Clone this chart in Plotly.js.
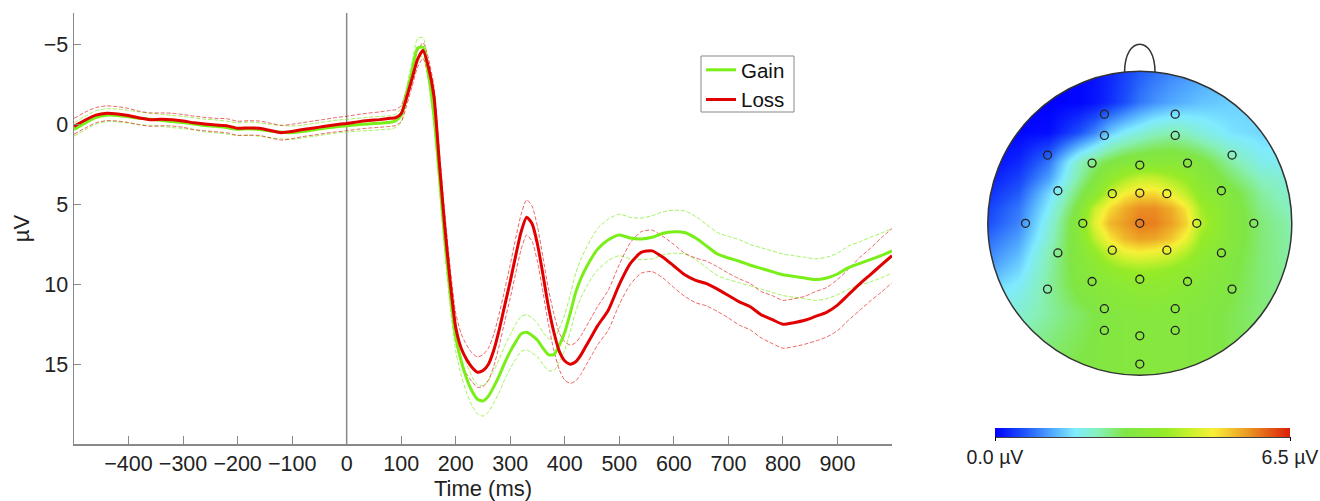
<!DOCTYPE html>
<html>
<head>
<meta charset="utf-8">
<script src="https://cdn.plot.ly/plotly-3.0.1.min.js"></script>
<style>
html,body{margin:0;padding:0;background:#fff;}
#chart{width:1320px;height:501px;}
</style>
</head>
<body>
<div id="chart"></div>
<script>
// ---------------- ERP data ----------------
const timeMs = [
 -500,-480,-460,-440,-420,-400,-380,-360,-340,-320,-300,-280,-260,-240,-220,-200,-180,-160,-140,-120,-100,-80,-60,-40,-20,0,20,40,60,80,
 90,100,110,120,130,140,150,160,170,180,190,200,210,220,230,240,250,260,270,280,290,300,310,320,330,340,350,360,370,380,390,400,410,420,430,440,450,
 460,480,500,520,540,560,580,600,620,640,660,680,700,720,740,760,780,800,820,840,860,880,900,920,940,960,980,1000
];
const gainMean = [
 0.3,-0.1,-0.45,-0.6,-0.58,-0.5,-0.4,-0.34,-0.28,-0.2,-0.14,-0.05,0.05,0.1,0.18,0.28,0.25,0.3,0.4,0.46,0.5,0.42,0.32,0.22,0.12,0.06,0.0,-0.05,-0.1,-0.15,
 -0.25,-0.6,-1.9,-3.4,-4.8,-4.85,-3.2,-0.6,3.2,7.2,10.6,13.3,14.8,15.9,16.7,17.2,17.3,17.0,16.4,15.7,14.9,14.2,13.6,13.1,13.0,13.2,13.5,14.0,14.4,14.4,13.8,13.0,11.8,10.5,9.6,8.9,8.3,
 7.8,7.2,6.9,7.1,7.15,7.05,6.8,6.7,6.75,7.1,7.6,8.1,8.35,8.55,8.8,9.0,9.2,9.4,9.5,9.6,9.7,9.6,9.35,8.95,8.7,8.45,8.2,7.9
];
const gainSE = [
 0.42,0.42,0.42,0.4,0.4,0.4,0.4,0.38,0.38,0.38,0.38,0.38,0.4,0.4,0.4,0.4,0.42,0.42,0.42,0.42,0.42,0.4,0.4,0.4,0.4,0.4,0.4,0.42,0.42,0.42,
 0.42,0.45,0.5,0.55,0.6,0.6,0.6,0.65,0.7,0.8,0.85,0.9,0.9,0.9,0.9,0.92,0.95,1.0,1.0,1.05,1.05,1.05,1.1,1.1,1.1,1.1,1.05,1.0,1.0,1.0,1.05,1.1,1.15,1.2,1.2,1.25,1.25,
 1.3,1.3,1.3,1.3,1.3,1.35,1.35,1.35,1.35,1.35,1.35,1.35,1.35,1.35,1.3,1.3,1.3,1.3,1.3,1.3,1.3,1.3,1.3,1.35,1.35,1.4,1.4,1.4
];
const lossMean = [
 0.1,-0.28,-0.6,-0.72,-0.68,-0.58,-0.42,-0.32,-0.34,-0.32,-0.24,-0.12,-0.04,0.02,0.06,0.22,0.2,0.22,0.36,0.5,0.42,0.3,0.2,0.1,0.0,-0.08,-0.18,-0.26,-0.32,-0.4,
 -0.45,-0.7,-1.7,-2.9,-4.1,-4.65,-3.6,-1.8,2.4,6.4,9.9,12.7,14.0,14.7,15.2,15.5,15.4,15.0,14.1,12.8,11.3,9.8,8.2,6.7,5.8,6.2,7.5,9.4,11.4,13.0,14.2,14.8,15.0,14.85,14.4,13.8,13.2,
 12.6,11.6,10.0,8.7,8.0,7.9,8.3,8.85,9.4,9.75,9.95,10.3,10.7,11.1,11.4,11.9,12.2,12.5,12.4,12.25,12.0,11.75,11.3,10.65,10.0,9.4,8.8,8.2
];
const lossSE = [
 0.5,0.5,0.48,0.46,0.45,0.44,0.42,0.42,0.4,0.4,0.4,0.42,0.42,0.42,0.44,0.44,0.45,0.45,0.46,0.46,0.45,0.44,0.44,0.44,0.45,0.45,0.46,0.47,0.48,0.5,
 0.5,0.5,0.5,0.5,0.5,0.5,0.55,0.6,0.7,0.8,0.85,0.9,0.9,0.9,0.9,0.95,1.0,1.0,1.0,1.0,1.0,1.05,1.1,1.1,1.1,1.1,1.1,1.1,1.1,1.15,1.15,1.2,1.2,1.2,1.2,1.2,1.2,
 1.2,1.25,1.25,1.3,1.3,1.3,1.3,1.35,1.35,1.4,1.4,1.4,1.4,1.45,1.45,1.45,1.5,1.5,1.5,1.5,1.55,1.55,1.6,1.6,1.65,1.65,1.7,1.7
];
const xTicks = [-400,-300,-200,-100,0,100,200,300,400,500,600,700,800,900];
const yTicks = [-5,0,5,10,15];
const seriesNames = ['Gain','Loss'];

// ---------------- Topographic map ----------------
const topoX = [-1,-0.8,-0.6,-0.4,-0.3,-0.2,-0.1,0,0.1,0.2,0.3,0.4,0.6,0.8,1];
const topoY = [1,0.8,0.6,0.4,0.3,0.2,0.1,0,-0.1,-0.2,-0.3,-0.4,-0.6,-0.8,-1];
const topoZ = [
 [0,0,0,0.05,0.15,0.3,0.5,0.7,0.85,1.0,1.1,1.2,1.4,1.55,1.65],
 [0,0,0,0.05,0.15,0.35,0.6,0.9,1.1,1.25,1.35,1.45,1.55,1.6,1.7],
 [0.05,0.05,0.1,0.6,1.0,1.5,1.8,2.0,2.2,2.3,2.2,2.0,1.7,1.6,1.7],
 [0.1,0.3,0.9,2.2,2.6,2.9,3.1,3.2,3.25,3.25,3.15,3.0,2.4,1.9,1.8],
 [0.2,0.5,1.2,2.4,2.9,3.5,4.0,4.3,4.3,4.0,3.7,3.25,2.7,2.2,2.0],
 [0.35,0.7,1.6,2.7,3.3,4.3,4.8,5.0,5.0,4.7,4.2,3.5,3.0,2.4,2.1],
 [0.5,0.9,1.8,3.0,4.3,5.0,5.4,5.65,5.65,5.4,4.9,3.9,3.1,2.5,2.2],
 [0.6,1.0,2.0,3.2,4.6,5.3,5.55,5.8,5.75,5.5,5.1,4.1,3.1,2.6,2.3],
 [0.8,1.2,2.1,3.2,4.2,4.9,5.3,5.5,5.45,5.2,4.7,3.8,3.1,2.6,2.35],
 [1.0,1.4,2.3,3.1,3.6,4.2,4.6,4.7,4.6,4.4,4.0,3.5,3.0,2.6,2.35],
 [1.2,1.6,2.35,3.05,3.3,3.6,3.8,3.9,3.85,3.7,3.5,3.3,2.95,2.6,2.4],
 [1.5,1.8,2.4,3.0,3.15,3.3,3.4,3.5,3.45,3.4,3.3,3.2,2.9,2.6,2.4],
 [2.0,2.1,2.4,2.7,2.85,3.0,3.05,3.1,3.1,3.1,3.05,3.0,2.8,2.6,2.5],
 [2.3,2.4,2.6,2.8,2.9,3.0,3.05,3.1,3.1,3.1,3.05,3.0,2.8,2.7,2.6],
 [2.5,2.6,2.7,2.9,2.95,3.0,3.05,3.1,3.1,3.1,3.05,3.0,2.9,2.8,2.7]
];
const electrodeX = [-0.233,0.233,-0.233,0.233,-0.607,0.607,-0.314,0,0.314,-0.539,0.537,-0.181,0,0.178,
 -0.752,-0.375,0,0.375,0.75,-0.539,-0.181,0.178,0.537,-0.314,0,0.314,-0.607,0.607,-0.233,0.233,-0.233,0,0.233,0];
const electrodeY = [0.718,0.718,0.578,0.578,0.449,0.449,0.396,0.383,0.396,0.214,0.214,0.195,0.199,0.195,
 0,0,0,0,0,-0.195,-0.177,-0.177,-0.195,-0.383,-0.368,-0.383,-0.433,-0.433,-0.562,-0.562,-0.705,-0.740,-0.705,-0.926];
const colorMin = 0, colorMax = 6.5;
const colorTickText = ['0.0 µV','6.5 µV'];

// ---------------- styles ----------------
const FONT = 'Liberation Sans, Arial, Helvetica, sans-serif';
const GREEN = 'rgb(122,238,24)';
const RED = 'rgb(225,0,0)';
const GREEN_B = 'rgba(122,238,24,0.7)';
const RED_B = 'rgba(225,0,0,0.6)';

function band(mean, se, sign){ return mean.map((m,i)=> m + sign*se[i]); }

const traces = [];
const defs = [[gainMean,gainSE,GREEN,GREEN_B],[lossMean,lossSE,RED,RED_B]];
defs.forEach(([m,se,c,cb])=>{
  [-1,1].forEach(s=>{
    traces.push({x:timeMs,y:band(m,se,s),type:'scatter',mode:'lines',showlegend:false,hoverinfo:'skip',
      line:{color:cb,width:1,dash:'4px,2px',shape:'spline',smoothing:0.6},xaxis:'x',yaxis:'y'});
  });
});
defs.forEach(([m,se,c],k)=>{
  traces.push({x:timeMs,y:m,type:'scatter',mode:'lines',name:seriesNames[k],
    line:{color:c,width:3,shape:'spline',smoothing:0.6},xaxis:'x',yaxis:'y'});
});

const jet = [
 [0,'rgb(0,0,255)'],[0.1,'rgb(30,85,250)'],[0.2,'rgb(85,175,255)'],[0.27,'rgb(128,235,255)'],
 [0.35,'rgb(135,240,185)'],[0.44,'rgb(128,230,70)'],[0.58,'rgb(150,235,40)'],[0.66,'rgb(200,240,45)'],
 [0.74,'rgb(248,240,55)'],[0.86,'rgb(235,150,35)'],[1,'rgb(220,30,10)']
];
traces.push({
  type:'heatmap',x:topoX,y:topoY,z:topoZ,zmin:colorMin,zmax:colorMax,zsmooth:'best',
  colorscale:jet,xaxis:'x2',yaxis:'y2',hoverinfo:'skip',showscale:true,
  colorbar:{orientation:'h',x:1142.5/1320,xanchor:'center',y:(501-428)/501,yanchor:'top',
    lenmode:'pixels',len:295,thicknessmode:'pixels',thickness:9,xpad:0,ypad:0,outlinewidth:0,
    tickmode:'array',tickvals:[colorMin,colorMax],ticktext:colorTickText,ticks:'outside',ticklen:4,
    tickcolor:'#000',tickfont:{family:FONT,size:19.5,color:'#222'}}
});
traces.push({type:'scatter',mode:'markers',x:electrodeX,y:electrodeY,xaxis:'x2',yaxis:'y2',showlegend:false,hoverinfo:'skip',
  marker:{symbol:'circle-open',size:8,color:'#222',line:{width:1.3,color:'#222'}}});

// circular mask geometry for the head
let circ = '';
const N = 144;
for(let i=0;i<=N;i++){ const a=2*Math.PI*i/N; circ += (i===0?'M':'L') + Math.cos(a).toFixed(4)+','+Math.sin(a).toFixed(4)+' '; }
circ += 'Z';
const maskPath = 'M -1.5,-1.5 L 1.5,-1.5 L 1.5,1.5 L -1.5,1.5 Z ' + circ;

const y0p = 57/501, y1p = (501-13)/501;
const layout = {
  width:1320,height:501,margin:{l:0,r:0,t:0,b:0},paper_bgcolor:'#fff',plot_bgcolor:'rgba(0,0,0,0)',
  font:{family:FONT,size:21,color:'#222'},
  showlegend:true,
  legend:{x:701/1320,y:(501-50)/501,xanchor:'left',yanchor:'top',bgcolor:'rgba(0,0,0,0)',borderwidth:0,
    font:{family:FONT,size:20.5,color:'#111'},itemwidth:30,tracegroupgap:0},
  xaxis:{domain:[74/1320,892/1320],range:[-500,1000],anchor:'y',tickmode:'array',tickvals:xTicks,
    ticks:'inside',ticklen:8,tickcolor:'#888',tickwidth:1,showline:true,linecolor:'#888',linewidth:1.5,
    showgrid:false,zeroline:false,tickfont:{family:FONT,size:21.5,color:'#222'},ticklabelstandoff:0,
    title:{text:'Time (ms)',font:{family:FONT,size:22,color:'#222'},standoff:2}},
  yaxis:{domain:[y0p,y1p],range:[20,-7],anchor:'x',tickmode:'array',tickvals:yTicks,
    ticks:'inside',ticklen:7,tickcolor:'#888',tickwidth:1,showline:true,linecolor:'#888',linewidth:1.5,
    showgrid:false,zeroline:false,tickfont:{family:FONT,size:21.5,color:'#222'},ticklabelstandoff:0,
    title:{text:'µV',font:{family:FONT,size:22,color:'#222'},standoff:8}},
  xaxis2:{domain:[965/1320,1314.6/1320],range:[-1.15,1.15],anchor:'y2',visible:false,fixedrange:true},
  yaxis2:{domain:[(501-398.1)/501,(501-33.3)/501],range:[-1.15,1.25],anchor:'x2',visible:false,fixedrange:true},
  shapes:[
    {type:'line',xref:'x',yref:'paper',x0:0,x1:0,y0:y0p,y1:y1p,line:{color:'#888',width:1.5},layer:'below'},
    {type:'rect',xref:'paper',yref:'paper',x0:701/1320,x1:794/1320,y0:(501-112)/501,y1:(501-56)/501,
      fillcolor:'#fff',line:{color:'#888',width:1},layer:'above'},
    {type:'path',xref:'x2',yref:'y2',path:maskPath,fillrule:'evenodd',fillcolor:'#fff',line:{width:0},layer:'above'},
    {type:'circle',xref:'x2',yref:'y2',x0:-1,x1:1,y0:-1,y1:1,line:{color:'#333',width:1.5},layer:'above'},
    {type:'path',xref:'x2',yref:'y2',path:'M -0.1,0.995 C -0.1,1.24 0.1,1.24 0.1,0.995',line:{color:'#333',width:1.5},layer:'above'},
    {type:'line',xref:'paper',yref:'paper',x0:995/1320,x1:1290/1320,y0:(501-437)/501,y1:(501-437)/501,line:{color:'#000',width:1.5}}
  ]
};
Plotly.newPlot('chart',traces,layout,{staticPlot:true,displayModeBar:false});
</script>
</body>
</html>
